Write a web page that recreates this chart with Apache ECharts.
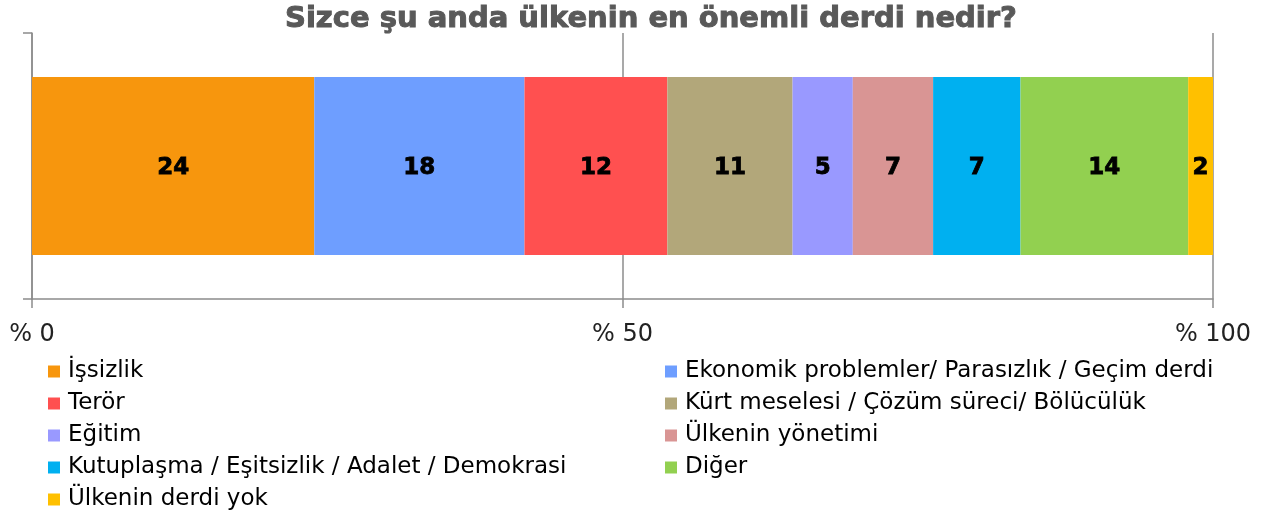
<!DOCTYPE html>
<html>
<head>
<meta charset="utf-8">
<script src="https://cdn.jsdelivr.net/npm/echarts@6/dist/echarts.min.js"></script>
<style>
  html, body { margin: 0; padding: 0; background: #fff; }
  #chart { width: 1270px; height: 513px; }
</style>
</head>
<body>
<div id="chart"></div>
<script>
// answers (share of respondents, %), in stacking order
const categories = [
  'İşsizlik',
  'Ekonomik problemler/ Parasızlık / Geçim derdi',
  'Terör',
  'Kürt meselesi / Çözüm süreci/ Bölücülük',
  'Eğitim',
  'Ülkenin yönetimi',
  'Kutuplaşma / Eşitsizlik / Adalet / Demokrasi',
  'Diğer',
  'Ülkenin derdi yok'
]
const shares = [23.9, 17.8, 12.1, 10.6, 5.1, 6.8, 7.4, 14.2, 2.1]
const colors = ['#F7960D', '#6E9EFF', '#FF5050', '#B2A77A', '#9999FF', '#D99594', '#00B0F0', '#92D050', '#FFC000']
const tickLabels = ['% 0', '% 50', '% 100']

const chart = echarts.init(document.getElementById('chart'))

const series = categories.map((name, i) => ({
  name: name,
  type: 'bar',
  stack: 'total',
  barWidth: 178,
  itemStyle: { color: colors[i] },
  label: {
    show: true,
    position: 'inside',
    offset: [0, 2],
    formatter: p => Math.round(p.value),
    color: '#000',
    fontFamily: 'DejaVu Sans',
    fontWeight: 'bold',
    fontSize: 23,
    textBorderColor: '#000',
    textBorderWidth: 0.8
  },
  emphasis: { disabled: true },
  data: [shares[i]]
}))

const legendBase = {
  orient: 'vertical',
  icon: 'rect',
  itemWidth: 12,
  itemHeight: 12,
  itemGap: 9,
  padding: 0,
  textStyle: { fontFamily: 'DejaVu Sans', fontSize: 23, lineHeight: 23, color: '#000', padding: [0, 0, 0, 3] },
  selectedMode: false
}

chart.setOption({
  animation: false,
  title: {
    text: 'Sizce şu anda ülkenin en önemli derdi nedir?',
    left: 285,
    top: 5,
    padding: 0,
    textStyle: {
      fontFamily: 'DejaVu Sans', fontWeight: 'bold', fontSize: 29, color: '#595959',
      textBorderColor: '#595959', textBorderWidth: 1
    }
  },
  legend: [
    Object.assign({}, legendBase, { left: 48, top: 360, data: categories.filter((c, i) => i % 2 === 0) }),
    Object.assign({}, legendBase, { left: 665, top: 360, data: categories.filter((c, i) => i % 2 === 1) })
  ],
  grid: { left: 32, right: 57, top: 33, bottom: 214 },
  xAxis: {
    type: 'value',
    min: 0,
    max: 100,
    interval: 50,
    axisLine: { show: true, lineStyle: { color: '#8C8C8C', width: 1.5 } },
    axisTick: { show: true, length: 9, lineStyle: { color: '#8C8C8C', width: 1.5 } },
    splitLine: { show: true, lineStyle: { color: '#8C8C8C', width: 1.5 } },
    axisLabel: {
      margin: 24,
      fontFamily: 'DejaVu Sans',
      fontSize: 24,
      color: '#222',
      formatter: v => tickLabels[v / 50]
    }
  },
  yAxis: {
    type: 'category',
    data: [''],
    axisLine: { show: true, lineStyle: { color: '#8C8C8C', width: 1.5 } },
    axisTick: { show: true, length: 9, lineStyle: { color: '#8C8C8C', width: 1.5 } },
    axisLabel: { show: false }
  },
  series: series
})
</script>
</body>
</html>
